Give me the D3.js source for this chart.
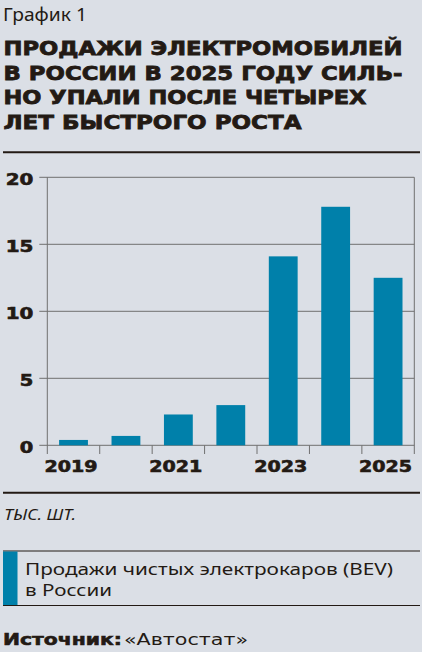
<!DOCTYPE html>
<html><head><meta charset="utf-8">
<script src="https://cdn.jsdelivr.net/npm/d3@7"></script>
<style>
html,body{margin:0;padding:0;background:#dbdfe6;}
svg{display:block;}
</style></head>
<body>
<svg id="c" width="422" height="652"></svg>
<script>
const years = [2019, 2020, 2021, 2022, 2023, 2024, 2025];
const sales = [0.4, 0.7, 2.3, 3.0, 14.1, 17.8, 12.5];
const yTicks = [0, 5, 10, 15, 20];
const xLabelYears = [2019, 2021, 2023, 2025];
const titleLines = ["ПРОДАЖИ ЭЛЕКТРОМОБИЛЕЙ", "В РОССИИ В 2025 ГОДУ СИЛЬ-", "НО УПАЛИ ПОСЛЕ ЧЕТЫРЕХ", "ЛЕТ БЫСТРОГО РОСТА"];
const titleWidths = [400, 400, 364, 299];
const legendLines = ["Продажи чистых электрокаров (BEV)", "в России"];
const legendWidths = [368, 87];

const ink = "#231a14", grid = "#707070", barColor = "#0080aa";
const wide = "'DejaVu Sans', sans-serif";
const svg = d3.select("#c");

svg.append("text").attr("x", 3).attr("y", 21).attr("font-family", "'Noto Sans', sans-serif")
  .attr("font-size", 18).attr("fill", ink).attr("textLength", 84).attr("lengthAdjust", "spacingAndGlyphs").text("График 1");

titleLines.forEach((t, i) => {
  svg.append("text").attr("x", 3.5).attr("y", 55 + i * 24.7).attr("font-family", wide).attr("font-weight", "bold")
    .attr("font-size", 19.5).attr("fill", ink).attr("stroke", ink).attr("stroke-width", 0.8)
    .attr("textLength", titleWidths[i] - 1).attr("lengthAdjust", "spacingAndGlyphs").text(t);
});

svg.append("line").attr("x1", 3).attr("x2", 420).attr("y1", 152.3).attr("y2", 152.3).attr("stroke", ink).attr("stroke-width", 2);

const x = d3.scaleBand().domain(years).range([47.3, 414.3]).paddingInner(0.45).paddingOuter(0.225);
const y = d3.scaleLinear().domain([0, 20]).range([445.3, 177.3]);
const step = x.step();
const x0 = x.range()[0];

const g = svg.append("g");
g.selectAll("line.grid").data(yTicks).join("line").attr("class", "grid")
  .attr("x1", 39.3).attr("x2", 414.3).attr("y1", d => y(d)).attr("y2", d => y(d))
  .attr("stroke", grid).attr("stroke-width", 1);
g.selectAll("line.vt").data(d3.range(years.length + 1)).join("line").attr("class", "vt")
  .attr("x1", i => x0 + i * step).attr("x2", i => x0 + i * step)
  .attr("y1", i => (i === 0 || i === years.length) ? y(20) : y(0)).attr("y2", 454)
  .attr("stroke", grid).attr("stroke-width", 1);

g.selectAll("rect.bar").data(years).join("rect").attr("class", "bar")
  .attr("x", d => x(d)).attr("width", x.bandwidth())
  .attr("y", (d, i) => y(sales[i])).attr("height", (d, i) => y(0) - y(sales[i]))
  .attr("fill", barColor);

g.selectAll("text.yl").data(yTicks).join("text").attr("class", "yl")
  .attr("x", 33.3).attr("y", d => y(d) + 7.5).attr("text-anchor", "end")
  .attr("font-family", wide).attr("font-weight", "bold").attr("font-size", 15).attr("fill", ink)
  .attr("stroke", ink).attr("stroke-width", 0.6)
  .attr("textLength", d => String(d).length === 1 ? 13.5 : 27.6).attr("lengthAdjust", "spacingAndGlyphs")
  .text(d => d);

g.selectAll("text.xl").data(xLabelYears).join("text").attr("class", "xl")
  .attr("x", d => x(d) + x.bandwidth() / 2 - 2.5).attr("y", 471.7).attr("text-anchor", "middle")
  .attr("font-family", wide).attr("font-weight", "bold").attr("font-size", 15).attr("fill", ink)
  .attr("stroke", ink).attr("stroke-width", 0.6)
  .attr("textLength", 53).attr("lengthAdjust", "spacingAndGlyphs")
  .text(d => d);

svg.append("line").attr("x1", 3).attr("x2", 420).attr("y1", 492.7).attr("y2", 492.7).attr("stroke", ink).attr("stroke-width", 2);

svg.append("text").attr("x", 4).attr("y", 520).attr("font-family", "'Noto Sans', sans-serif").attr("font-style", "italic")
  .attr("font-size", 14).attr("fill", ink).attr("textLength", 72).attr("lengthAdjust", "spacingAndGlyphs").text("ТЫС. ШТ.");

svg.append("line").attr("x1", 3).attr("x2", 420).attr("y1", 551).attr("y2", 551).attr("stroke", ink).attr("stroke-width", 1);
svg.append("line").attr("x1", 3).attr("x2", 420).attr("y1", 605.5).attr("y2", 605.5).attr("stroke", ink).attr("stroke-width", 1);
svg.append("rect").attr("x", 3).attr("y", 551.5).attr("width", 14.5).attr("height", 53.5).attr("fill", barColor);
legendLines.forEach((t, i) => {
  svg.append("text").attr("x", 25).attr("y", 574.5 + i * 21.5).attr("font-family", "'Noto Sans', sans-serif")
    .attr("font-size", 16.5).attr("fill", ink).attr("textLength", legendWidths[i]).attr("lengthAdjust", "spacingAndGlyphs").text(t);
});

const src = svg.append("text").attr("x", 3).attr("y", 645).attr("fill", ink).attr("font-size", 16);
src.append("tspan").attr("font-family", wide).attr("font-weight", "bold").attr("stroke", ink).attr("stroke-width", 0.6)
  .attr("textLength", 119).attr("lengthAdjust", "spacingAndGlyphs").text("Источник:");
src.append("tspan").attr("x", 124).attr("font-family", wide).attr("textLength", 124).attr("lengthAdjust", "spacingAndGlyphs").text("«Автостат»");
</script>
</body></html>
